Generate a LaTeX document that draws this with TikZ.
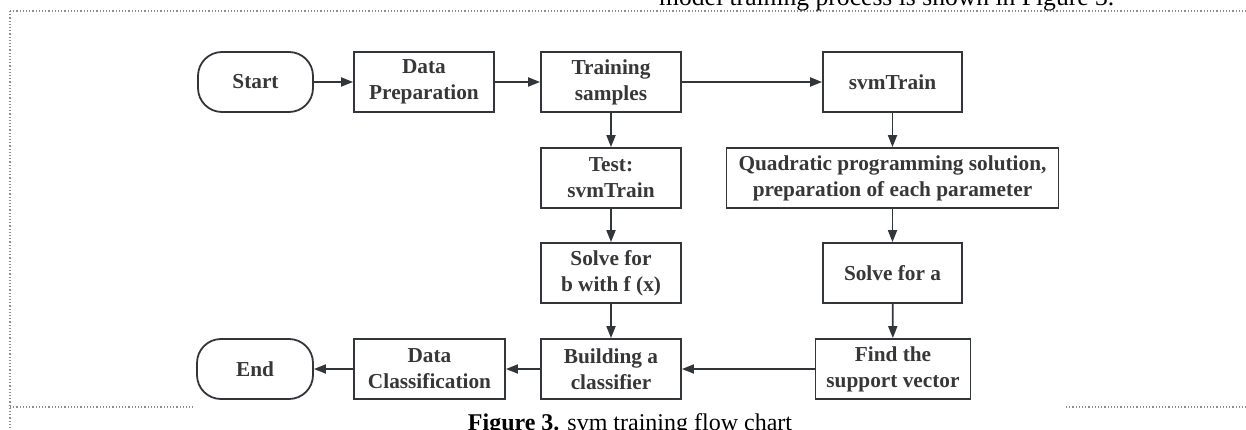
\documentclass[tikz,border=0pt]{standalone}
\usepackage{fontspec}
\setmainfont{Liberation Serif}
\usetikzlibrary{arrows.meta}
\definecolor{lineclr}{RGB}{50,53,58}
\definecolor{txtclr}{RGB}{55,55,55}
\definecolor{frameclr}{RGB}{140,140,140}
\tikzset{
  box/.style={draw=lineclr, line width=1.8pt, rectangle, minimum height=60pt, inner sep=0pt, align=center, text=txtclr, font=\fontsize{21.3}{26}\selectfont\bfseries},
  term/.style={box, rounded corners=24pt},
  conn/.style={draw=lineclr, line width=1.8pt, -{Triangle[length=12pt,width=9pt]}},
  frame/.style={draw=frameclr, line width=1.2pt, dotted}
}
\begin{document}
\begin{tikzpicture}[x=1pt,y=-1pt]
\useasboundingbox (0,0) rectangle (1246,430);
% frame
\coordinate (ftl) at (10,11);
\coordinate (ftr) at (1246,11);
\coordinate (fbl) at (10,430);
\coordinate (fb1a) at (10,407);
\coordinate (fb1b) at (193,407);
\coordinate (fb2a) at (1066,407);
\coordinate (fb2b) at (1246,407);
\draw[frame] (ftl) -- (ftr);
\draw[frame] (ftl) -- (fbl);
\draw[frame] (fb1a) -- (fb1b);
\draw[frame] (fb2a) -- (fb2b);
% surrounding text
\node[anchor=base west, inner sep=0pt, font=\fontsize{25.6}{30}\selectfont] (toptext) at (659,6) {model training process is shown in Figure 3.};
\node[anchor=base, inner sep=0pt, font=\fontsize{24}{28}\selectfont] (caption) at (630,430) {\textbf{Figure 3.} svm training flow chart};
% nodes
\node[term, minimum width=115pt] (start) at (255.5,82) {Start};
\node[box, minimum width=140pt] (prep) at (424,82) {Data\\Preparation};
\node[box, minimum width=140pt] (train) at (611,82) {Training\\samples};
\node[box, minimum width=139pt] (svm) at (892.5,82) {svmTrain};
\node[box, minimum width=140pt] (test) at (611,178) {Test:\\svmTrain};
\node[box, minimum width=332pt] (quad) at (892.5,178) {Quadratic programming solution,\\preparation of each parameter};
\node[box, minimum width=140pt] (solveb) at (611,273) {Solve for\\b with f (x)};
\node[box, minimum width=139pt] (solvea) at (892.5,273) {Solve for a};
\node[term, minimum width=116pt] (endn) at (255,369) {End};
\node[box, minimum width=151pt] (classif) at (429.5,369) {Data\\Classification};
\node[box, minimum width=140pt] (build) at (611,369) {Building a\\classifier};
\node[box, minimum width=155pt] (find) at (893,369) {Find the\\support vector};
% connectors
\draw[conn] (start) -- (prep);
\draw[conn] (prep) -- (train);
\draw[conn] (train) -- (svm);
\draw[conn] (train) -- (test);
\draw[conn] (svm) -- (quad);
\draw[conn] (test) -- (solveb);
\draw[conn] (quad) -- (solvea);
\draw[conn] (solveb) -- (build);
\draw[conn] (solvea) -- (find);
\draw[conn] (find) -- (build);
\draw[conn] (build) -- (classif);
\draw[conn] (classif) -- (endn);
\end{tikzpicture}
\end{document}
